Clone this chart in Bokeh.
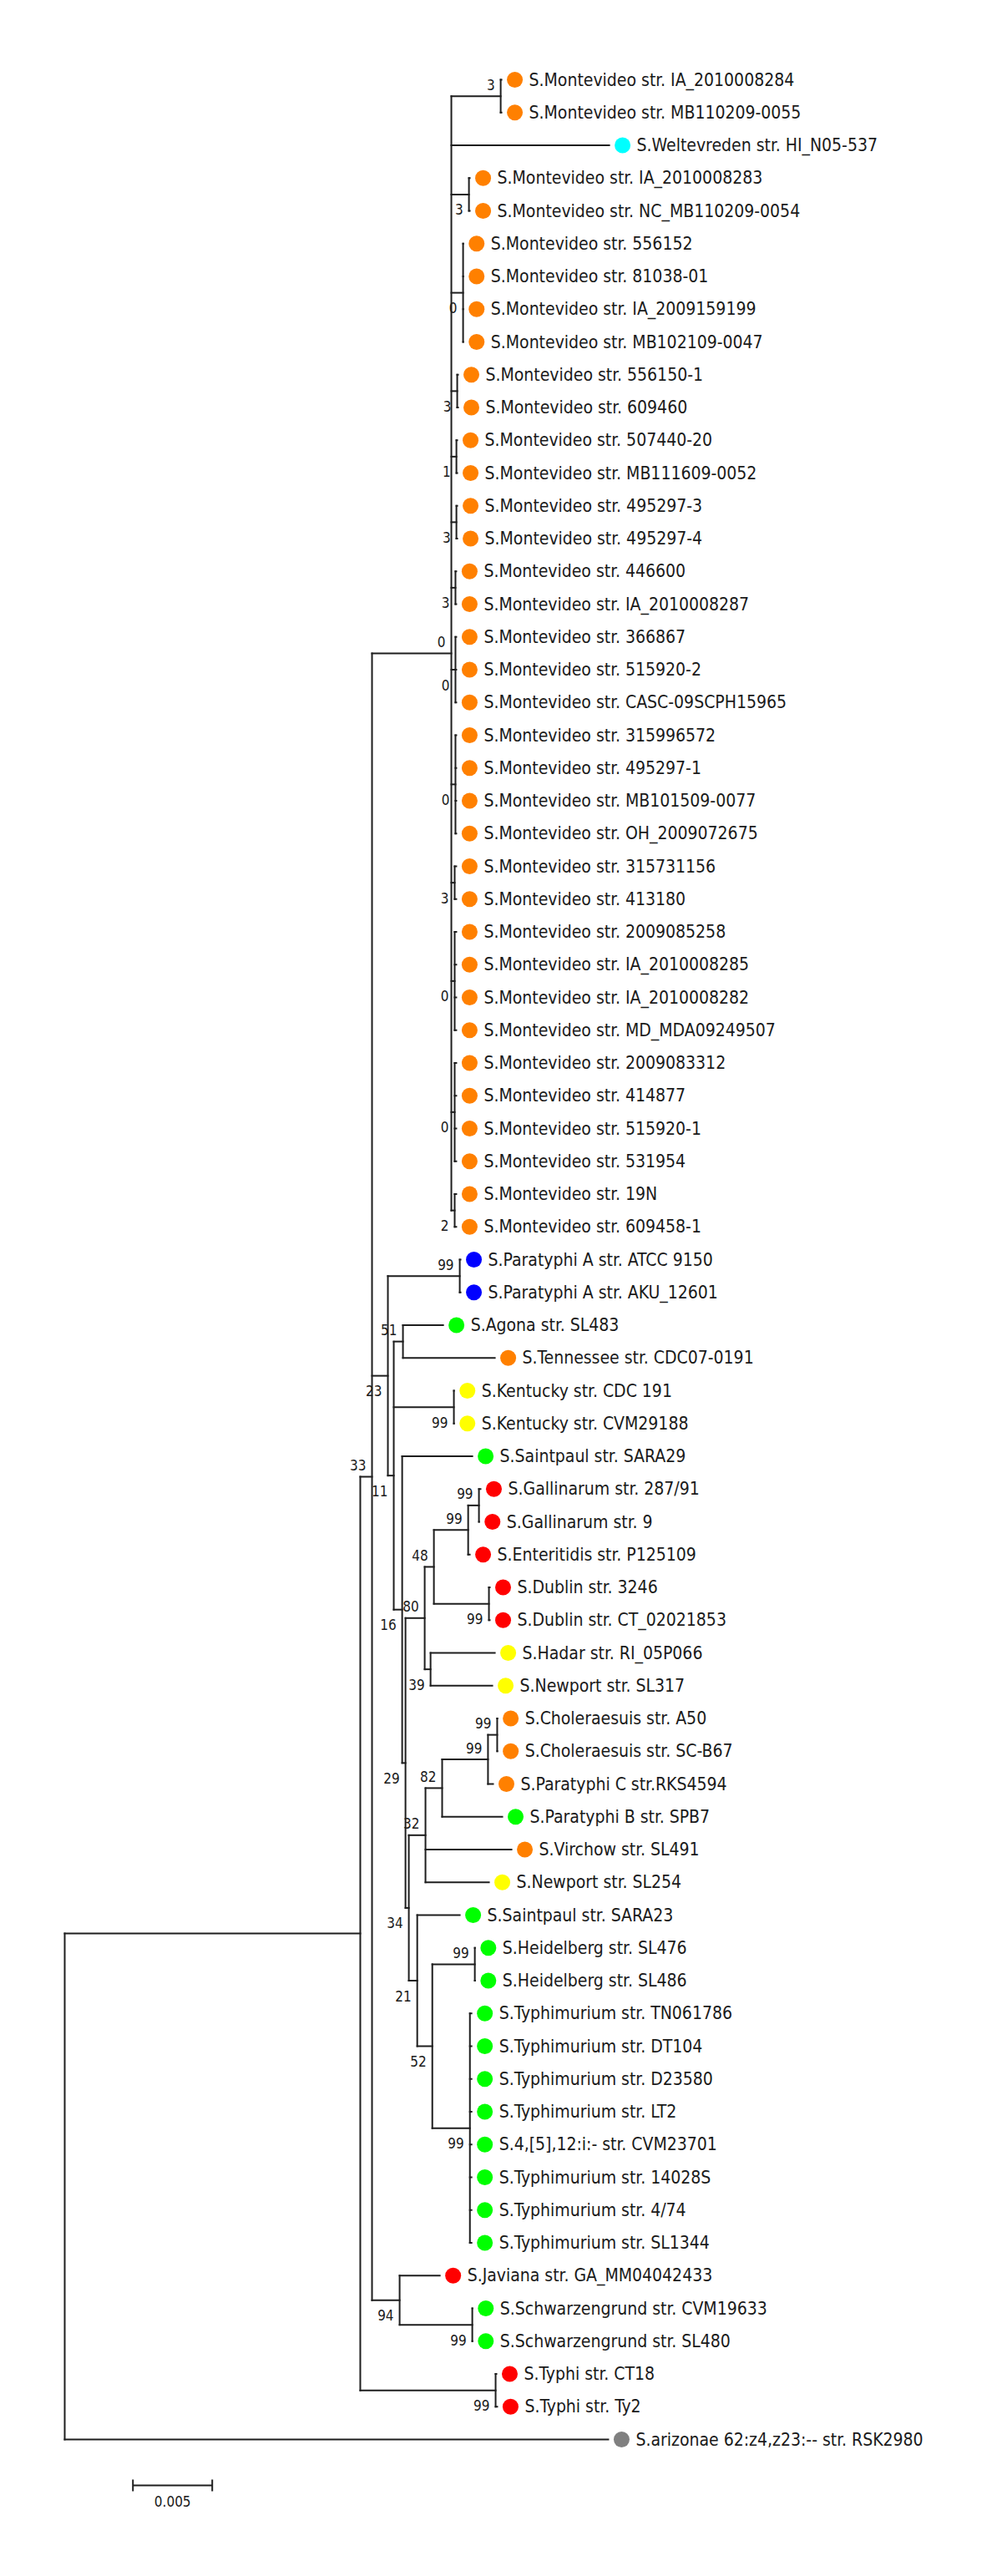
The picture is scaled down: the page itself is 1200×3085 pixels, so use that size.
from bokeh.plotting import figure
from bokeh.models import Range1d, ColumnDataSource
from bokeh.core.properties import value
from bokeh.embed import file_html
from bokeh.resources import INLINE

# ---------------- data: internal nodes (parent, branch length, bootstrap) ----------------
node_names = ["root", "ingroup", "n33", "typhi", "monte", "mA", "mB", "mC", "mD", "mE",
              "mF", "mG", "mH", "mI", "mJ", "mK", "mL", "mM", "n23", "parA",
              "n11", "agten", "kent", "n16", "n29", "n80", "n48", "n99a", "gall", "dub",
              "n39", "n34", "n32", "n82", "n99b", "chol", "n21", "n52", "heid", "tym",
              "jav", "schw"]
node_parents = [None, "root", "ingroup", "ingroup", "n33", "monte", "monte", "monte", "monte", "monte",
                "monte", "monte", "monte", "monte", "monte", "monte", "monte", "monte", "n33", "n23",
                "n23", "n11", "n11", "n11", "n16", "n29", "n80", "n48", "n99a", "n48",
                "n80", "n29", "n34", "n32", "n82", "n99b", "n34", "n21", "n52", "n52",
                "n33", "jav"]
node_lengths = [0.0, 0.01863, 0.00074, 0.00853, 0.00500, 0.00311, 0.00111, 0.00074, 0.00037, 0.00032,
                0.00032, 0.00026, 0.00026, 0.00026, 0.00021, 0.00021, 0.00021, 0.00021, 0.00100, 0.00453,
                0.00037, 0.00058, 0.00379, 0.00053, 0.00021, 0.00121, 0.00058, 0.00216, 0.00068, 0.00347,
                0.00037, 0.00021, 0.00105, 0.00105, 0.00289, 0.00058, 0.00053, 0.00095, 0.00268, 0.00237,
                0.00174, 0.00458]
node_support = [None, None, 33, 99, 0, 3, 3, 0, 3, 1,
                3, 3, 0, 0, 3, 0, 0, 2, 23, 99,
                11, 51, 99, 16, 29, 80, 48, 99, 99, 99,
                39, 34, 32, 82, 99, 99, 21, 52, 99, 99,
                94, 99]

# ---------------- data: leaves (top to bottom) ----------------
leaf_names = [
    "S.Montevideo str. IA_2010008284", "S.Montevideo str. MB110209-0055",
    "S.Weltevreden str. HI_N05-537",
    "S.Montevideo str. IA_2010008283", "S.Montevideo str. NC_MB110209-0054",
    "S.Montevideo str. 556152", "S.Montevideo str. 81038-01",
    "S.Montevideo str. IA_2009159199", "S.Montevideo str. MB102109-0047",
    "S.Montevideo str. 556150-1", "S.Montevideo str. 609460",
    "S.Montevideo str. 507440-20", "S.Montevideo str. MB111609-0052",
    "S.Montevideo str. 495297-3", "S.Montevideo str. 495297-4",
    "S.Montevideo str. 446600", "S.Montevideo str. IA_2010008287",
    "S.Montevideo str. 366867", "S.Montevideo str. 515920-2",
    "S.Montevideo str. CASC-09SCPH15965",
    "S.Montevideo str. 315996572", "S.Montevideo str. 495297-1",
    "S.Montevideo str. MB101509-0077", "S.Montevideo str. OH_2009072675",
    "S.Montevideo str. 315731156", "S.Montevideo str. 413180",
    "S.Montevideo str. 2009085258", "S.Montevideo str. IA_2010008285",
    "S.Montevideo str. IA_2010008282", "S.Montevideo str. MD_MDA09249507",
    "S.Montevideo str. 2009083312", "S.Montevideo str. 414877",
    "S.Montevideo str. 515920-1", "S.Montevideo str. 531954",
    "S.Montevideo str. 19N", "S.Montevideo str. 609458-1",
    "S.Paratyphi A str. ATCC 9150", "S.Paratyphi A str. AKU_12601",
    "S.Agona str. SL483", "S.Tennessee str. CDC07-0191",
    "S.Kentucky str. CDC 191", "S.Kentucky str. CVM29188",
    "S.Saintpaul str. SARA29",
    "S.Gallinarum str. 287/91", "S.Gallinarum str. 9", "S.Enteritidis str. P125109",
    "S.Dublin str. 3246", "S.Dublin str. CT_02021853",
    "S.Hadar str. RI_05P066", "S.Newport str. SL317",
    "S.Choleraesuis str. A50", "S.Choleraesuis str. SC-B67", "S.Paratyphi C str.RKS4594",
    "S.Paratyphi B str. SPB7", "S.Virchow str. SL491", "S.Newport str. SL254",
    "S.Saintpaul str. SARA23",
    "S.Heidelberg str. SL476", "S.Heidelberg str. SL486",
    "S.Typhimurium str. TN061786", "S.Typhimurium str. DT104",
    "S.Typhimurium str. D23580", "S.Typhimurium str. LT2",
    "S.4,[5],12:i:- str. CVM23701", "S.Typhimurium str. 14028S",
    "S.Typhimurium str. 4/74", "S.Typhimurium str. SL1344",
    "S.Javiana str. GA_MM04042433",
    "S.Schwarzengrund str. CVM19633", "S.Schwarzengrund str. SL480",
    "S.Typhi str. CT18", "S.Typhi str. Ty2",
    "S.arizonae 62:z4,z23:-- str. RSK2980",
]
leaf_parents = (["mA", "mA", "monte", "mB", "mB"] + ["mC"] * 4 + ["mD"] * 2 + ["mE"] * 2 +
                ["mF"] * 2 + ["mG"] * 2 + ["mH"] * 3 + ["mI"] * 4 + ["mJ"] * 2 + ["mK"] * 4 +
                ["mL"] * 4 + ["mM"] * 2 +
                ["parA", "parA", "agten", "agten", "kent", "kent", "n16",
                 "gall", "gall", "n99a", "dub", "dub", "n39", "n39",
                 "chol", "chol", "n99b", "n82", "n32", "n32", "n21",
                 "heid", "heid"] + ["tym"] * 8 +
                ["jav", "schw", "schw", "typhi", "typhi", "root"])
leaf_lengths = ([0.00005, 0.00005, 0.00995, 0.00005, 0.00005] + [0.00001] * 4 + [0.00005] * 2 +
                [0.00005] * 2 + [0.00005] * 2 + [0.00005] * 2 + [0.00005] * 3 + [0.00005] * 4 +
                [0.0001] * 2 + [0.0001] * 4 + [0.0001] * 4 + [0.0001] * 2 +
                [0.00005, 0.00005, 0.00253, 0.00579, 0.00001, 0.00001, 0.00442,
                 0.0001, 0.00001, 0.0001, 0.00005, 0.00005, 0.00405, 0.00389,
                 0.00001, 0.00001, 0.00032, 0.00379, 0.00542, 0.00400, 0.00268,
                 0.00001, 0.00001] + [0.0001] * 8 +
                [0.00253, 0.00001, 0.00001, 0.00005, 0.0001, 0.03426])
leaf_groups = (["orange", "orange", "cyan"] + ["orange"] * 33 +
               ["blue", "blue", "green", "orange", "yellow", "yellow", "green",
                "red", "red", "red", "red", "red", "yellow", "yellow",
                "orange", "orange", "orange", "green", "orange", "yellow", "green",
                "green", "green"] + ["green"] * 8 +
               ["red", "green", "green", "red", "red", "grey"])
group_colors = {"orange": "#FF8000", "cyan": "#00FFFF", "blue": "#0000FF", "green": "#00FF00",
                "yellow": "#FFFF00", "red": "#FF0000", "grey": "#808080"}

scale_bar_length = 0.005
scale_bar_label = "0.005"

# ---------------- layout ----------------
W, H = 1184, 3069
PX = 1.0 / 19000.0          # data units per screen pixel (x)
ROW = 39.25                 # screen pixels per leaf row
ROOT_PX = 77
TOP_PX = 95

parent, blen = {}, {}
for n, par, bl in zip(node_names, node_parents, node_lengths):
    parent[n], blen[n] = par, bl
leaf_ids = ["leaf%d" % i for i in range(len(leaf_names))]
for lid, par, bl in zip(leaf_ids, leaf_parents, leaf_lengths):
    parent[lid], blen[lid] = par, bl

children = {n: [] for n in node_names}
for k, par in parent.items():
    if par is not None:
        children[par].append(k)

ypos = {lid: float(i) for i, lid in enumerate(leaf_ids)}


def get_y(n):
    if n in ypos:
        return ypos[n]
    ys = sorted(get_y(c) for c in children[n])
    ypos[n] = (ys[0] + ys[-1]) / 2.0
    return ypos[n]


get_y("root")
for n in node_names:
    children[n].sort(key=lambda c: ypos[c])

xpos = {"root": 0.0}


def set_x(n):
    for c in children.get(n, []):
        xpos[c] = xpos[n] + blen[c]
        set_x(c)


set_x("root")

hx0, hx1, hy = [], [], []
for k, par in parent.items():
    if par is None:
        continue
    hx0.append(xpos[par]); hx1.append(xpos[k]); hy.append(ypos[k])
vx, vy0, vy1 = [], [], []
for n in node_names:
    ch = children[n]
    vx.append(xpos[n]); vy0.append(ypos[ch[0]]); vy1.append(ypos[ch[-1]])

p = figure(width=W, height=H, output_backend="svg", toolbar_location=None,
           x_range=Range1d(-ROOT_PX * PX, (W - ROOT_PX) * PX),
           y_range=Range1d((H - TOP_PX) / ROW, -TOP_PX / ROW),
           x_axis_location=None, y_axis_location=None,
           min_border=0, min_border_left=0, min_border_right=0,
           min_border_top=0, min_border_bottom=0)
p.outline_line_color = None
p.xgrid.visible = False
p.ygrid.visible = False
p.background_fill_color = "white"

LINE = "#1e1e1e"
p.segment(x0=hx0, y0=hy, x1=hx1, y1=hy, line_color=LINE, line_width=2, line_cap="square")
p.segment(x0=vx, y0=vy0, x1=vx, y1=vy1, line_color=LINE, line_width=2, line_cap="square")

tips = [xpos[l] for l in leaf_ids]
ly = [ypos[l] for l in leaf_ids]
leaf_src = ColumnDataSource(dict(
    dx=[t + 16 * PX for t in tips], tx=[t + 33 * PX for t in tips], y=ly,
    name=leaf_names, color=[group_colors[g] for g in leaf_groups]))
p.scatter(x="dx", y="y", source=leaf_src, size=19, fill_color="color", line_color=None)
FONT = value("DejaVu Sans Condensed")
p.text(x="tx", y="y", text="name", source=leaf_src, text_font=FONT, text_font_size="21px",
       text_color="#1a1a1a", text_baseline="middle", text_align="left")

bx, by, bt = [], [], []
for n, s in zip(node_names, node_support):
    if s is None:
        continue
    par = parent[n]
    first = children[par][0] == n
    bx.append(xpos[n] - 7 * PX)
    by.append(ypos[n] + (-14 if first else 18) / ROW)
    bt.append(str(s))
p.text(x=bx, y=by, text=bt, text_font=FONT, text_font_size="17px", text_color="#1a1a1a",
       text_baseline="middle", text_align="right")

# scale bar
sb_x0 = 0.0043
sb_y = len(leaf_names) - 1 + 1.4
p.segment(x0=[sb_x0], y0=[sb_y], x1=[sb_x0 + scale_bar_length], y1=[sb_y], line_color=LINE, line_width=2)
tick = 7 / ROW
p.segment(x0=[sb_x0, sb_x0 + scale_bar_length], y0=[sb_y - tick] * 2,
          x1=[sb_x0, sb_x0 + scale_bar_length], y1=[sb_y + tick] * 2, line_color=LINE, line_width=2)
p.text(x=[sb_x0 + scale_bar_length / 2], y=[sb_y + 19 / ROW], text=[scale_bar_label], text_font=FONT,
       text_font_size="17px", text_color="#1a1a1a", text_baseline="middle", text_align="center")

open("out.html", "w").write(file_html(p, INLINE))
